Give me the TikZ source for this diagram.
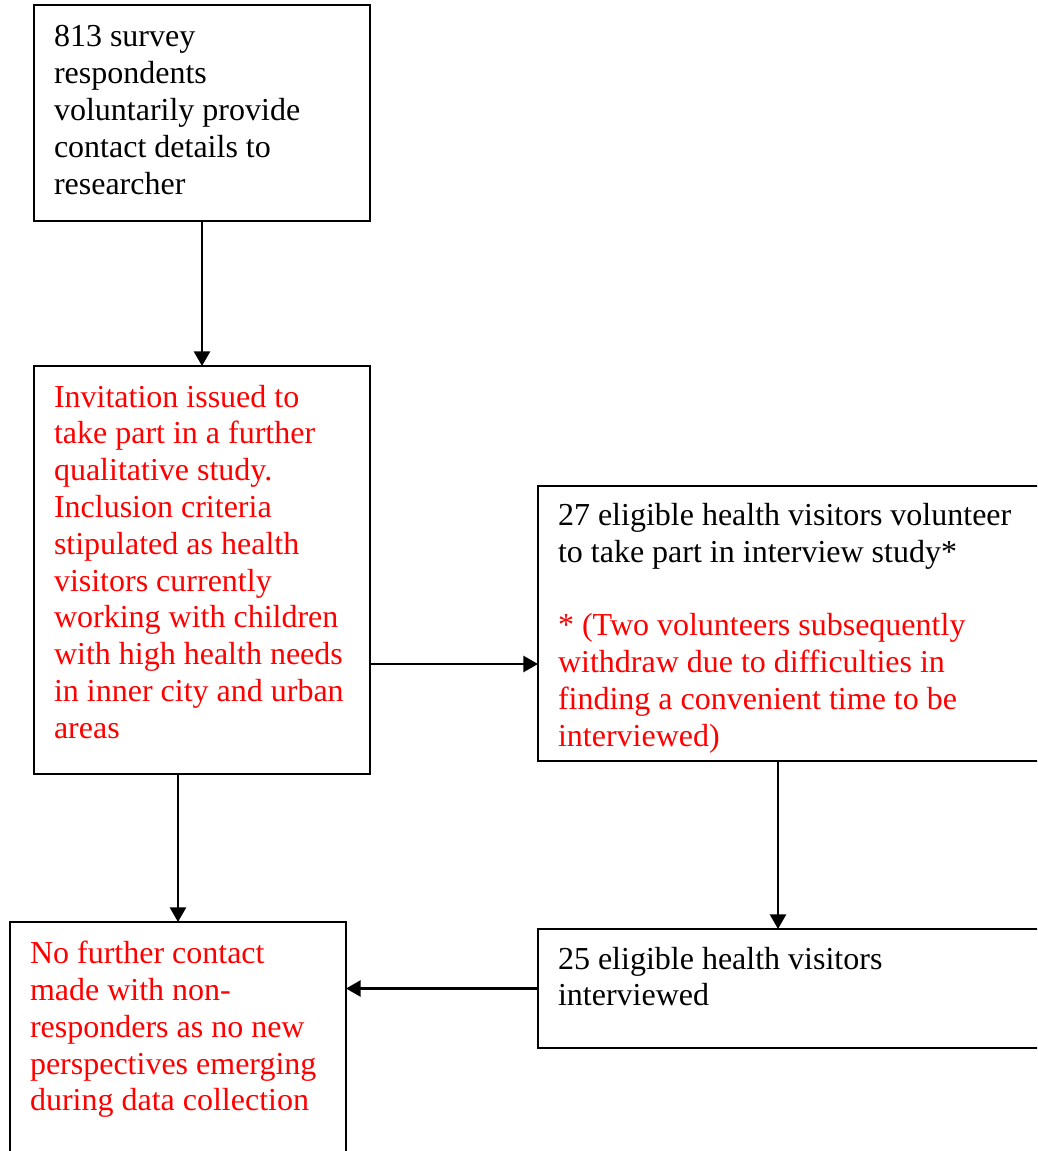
\documentclass[tikz,border=0pt]{standalone}
\usepackage{fontspec}
\setmainfont{Liberation Serif}
\usetikzlibrary{arrows.meta}

\tikzstyle{process} = [rectangle, draw=black, line width=1.5pt, outer sep=0pt, inner xsep=15pt, inner ysep=0pt, anchor=north west, align=left, font=\fontsize{24}{27.6}\selectfont, execute at begin node={\spaceskip=0pt\xspaceskip=0pt\relax}]
\tikzstyle{flow} = [-{Triangle[length=11pt, width=12pt]}, line width=2pt]

\begin{document}
\begin{tikzpicture}[x=0.75pt, y=-0.75pt]
    \useasboundingbox (0,0) rectangle (1037,1151);
    \clip (0,0) rectangle (1037,1151);
	\node (Survey) at (34,5) [process, text width=222pt, text height=31.5pt, text depth=130.5pt] {813 survey\\ respondents\\ voluntarily provide\\ contact details to\\ researcher};
	\node (Invitation) at (34,366) [process, text=red, text width=222pt, text height=30.75pt, text depth=275.5pt] {Invitation issued to\\ take part in a further\\ qualitative study.\\ Inclusion criteria\\ stipulated as health\\ visitors currently\\ working with children\\ with high health needs\\ in inner city and urban\\ areas};
	\node (Volunteer) at (538,486) [process, text width=361pt, text height=29.5pt, text depth=176.4pt] {27 eligible health visitors volunteer\\ to take part in interview study*\\[27.6pt] \color{red}* (Two volunteers subsequently\\ \color{red}withdraw due to difficulties in\\ \color{red}finding a convenient time to be\\ \color{red}interviewed)};
	\node (Interviewed) at (538,929) [process, text width=361pt, text height=30pt, text depth=59.25pt] {25 eligible health visitors\\ interviewed};
	\node (NoContact) at (10,922) [process, text=red, text width=222pt, text height=31.3pt, text depth=162pt] {No further contact\\ made with non-\\ responders as no new\\ perspectives emerging\\ during data collection};
	% where the side arrows run
	\coordinate (midrow) at (0,664);
	\coordinate (rightcol) at (778,0);
	\draw [flow] (Survey) -- (Invitation);
	\draw [flow] (Invitation.east |- midrow) -- (Volunteer.west |- midrow);
	\draw [flow] (Invitation.south -| NoContact.north) -- (NoContact.north);
	\draw [flow] (Volunteer.south -| rightcol) -- (Interviewed.north -| rightcol);
	\draw [flow] (Interviewed.west) -- (Interviewed.west -| NoContact.east);
\end{tikzpicture}
\end{document}
